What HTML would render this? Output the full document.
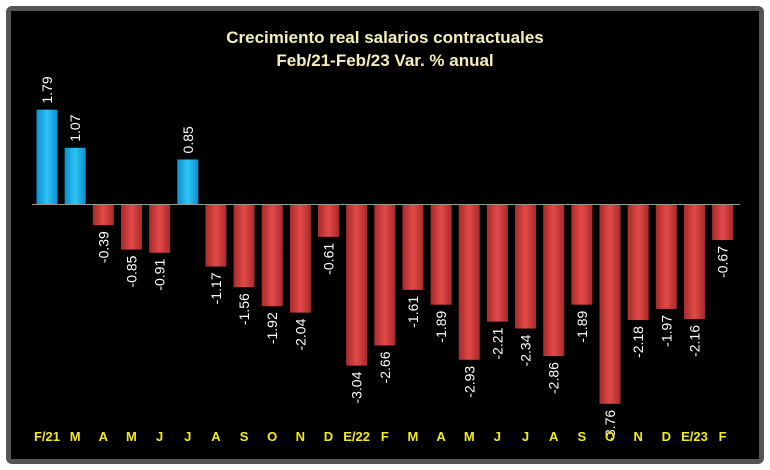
<!DOCTYPE html>
<html><head><meta charset="utf-8"><style>
body{margin:0;background:#fff;width:770px;height:470px;overflow:hidden}
svg{display:block;font-family:"Liberation Sans",sans-serif}
</style></head><body>
<svg width="770" height="470">
<defs>
<linearGradient id="blue" x1="0" x2="1"><stop offset="0" stop-color="#0a8fd0"/><stop offset="0.5" stop-color="#2ec4f5"/><stop offset="1" stop-color="#0a8fd0"/></linearGradient>
<linearGradient id="red" x1="0" x2="1"><stop offset="0" stop-color="#a82a2a"/><stop offset="0.5" stop-color="#e24a48"/><stop offset="1" stop-color="#a82a2a"/></linearGradient>
</defs>
<rect x="6" y="6" width="758" height="458" rx="6" fill="#555"/>
<rect x="11" y="11" width="748" height="448" fill="#000"/>
<text x="385" y="43" text-anchor="middle" font-weight="bold" font-size="17" fill="#f4f0b4">Crecimiento real salarios contractuales</text>
<text x="385" y="66" text-anchor="middle" font-weight="bold" font-size="17" fill="#f4f0b4">Feb/21-Feb/23 Var. % anual</text>
<g id="bars"></g>
<line x1="32" x2="740" y1="204.5" y2="204.5" stroke="#999" stroke-width="1"/>
</svg>
<script>
const categories=["F/21","M","A","M","J","J","A","S","O","N","D","E/22","F","M","A","M","J","J","A","S","O","N","D","E/23","F"];
const values=[1.79,1.07,-0.39,-0.85,-0.91,0.85,-1.17,-1.56,-1.92,-2.04,-0.61,-3.04,-2.66,-1.61,-1.89,-2.93,-2.21,-2.34,-2.86,-1.89,-3.76,-2.18,-1.97,-2.16,-0.67];
const labels=["1.79","1.07","-0.39","-0.85","-0.91","0.85","-1.17","-1.56","-1.92","-2.04","-0.61","-3.04","-2.66","-1.61","-1.89","-2.93","-2.21","-2.34","-2.86","-1.89","-3.76","-2.18","-1.97","-2.16","-0.67"];
const NS="http://www.w3.org/2000/svg";
const g=document.getElementById('bars');
const x0=47,step=28.15,bw=21,zeroY=204.5,scale=53;
const xs=i=>x0+i*step;
const ys=v=>zeroY-v*scale;
values.forEach((v,i)=>{
  const cx=xs(i),y=ys(v);
  const r=document.createElementNS(NS,'rect');
  r.setAttribute('x',cx-bw/2);r.setAttribute('width',bw);
  r.setAttribute('y',Math.min(y,zeroY));r.setAttribute('height',Math.abs(y-zeroY));
  r.setAttribute('fill',v>=0?'url(#blue)':'url(#red)');
  
  
  g.appendChild(r);
  const t=document.createElementNS(NS,'text');
  const ty=v>=0?y-6:y+6;
  t.setAttribute('transform','translate('+(cx+5)+','+ty+') rotate(-90)');
  t.setAttribute('text-anchor',v>=0?'start':'end');
  t.setAttribute('font-size','14');t.setAttribute('fill','#fff');
  t.textContent=labels[i];
  
  
  g.appendChild(t);
  const c=document.createElementNS(NS,'text');
  c.setAttribute('x',cx);c.setAttribute('y',441);
  c.setAttribute('text-anchor','middle');c.setAttribute('font-size','13');
  c.setAttribute('font-weight','bold');c.setAttribute('fill','#f2ea1a');
  c.textContent=categories[i];
  
  
  g.appendChild(c);
});
</script>
</body></html>
